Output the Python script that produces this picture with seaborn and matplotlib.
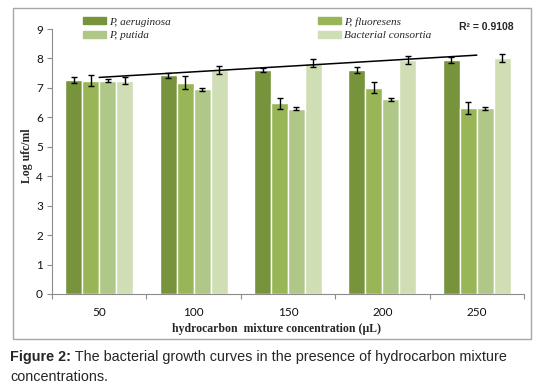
import numpy as np
import pandas as pd
import matplotlib
matplotlib.use("Agg")
import matplotlib.pyplot as plt
from matplotlib.patches import Rectangle
import seaborn as sns

# data
concentrations = ["50", "100", "150", "200", "250"]
strains = ["P, aeruginosa", "P, fluoresens", "P, putida", "Bacterial consortia"]
aeruginosa = [7.27, 7.43, 7.61, 7.61, 7.95]
fluoresens = [7.25, 7.18, 6.48, 7.00, 6.31]
putida = [7.25, 6.96, 6.29, 6.61, 6.31]
consortia = [7.25, 7.60, 7.85, 7.95, 8.02]
err_aeruginosa = [0.10, 0.09, 0.08, 0.10, 0.10]
err_fluoresens = [0.18, 0.21, 0.19, 0.19, 0.20]
err_putida = [0.06, 0.05, 0.05, 0.05, 0.05]
err_consortia = [0.13, 0.13, 0.13, 0.13, 0.13]
r2_label = "R² = 0.9108"

colors = ["#77933C", "#98B656", "#AFC787", "#D0DEB6"]

values = [aeruginosa, fluoresens, putida, consortia]
errors = [err_aeruginosa, err_fluoresens, err_putida, err_consortia]

df = pd.DataFrame({
    "conc": concentrations * len(strains),
    "strain": [s for s in strains for _ in concentrations],
    "value": [v for vals in values for v in vals],
})

sns.set_theme(style="white")
plt.rcParams["font.family"] = ["Lato", "DejaVu Sans"]

fig = plt.figure(figsize=(5.42, 3.9), dpi=100)
ax = fig.add_axes([52 / 542, 1 - 294 / 390, (524 - 52) / 542, (294 - 29) / 390])

sns.barplot(data=df, x="conc", y="value", hue="strain", palette=colors,
            width=0.72, gap=0, errorbar=None, saturation=1, ax=ax, legend=False)

# error bars on each bar
for cont, errs in zip(ax.containers, errors):
    xs = [p.get_x() + p.get_width() / 2 for p in cont.patches]
    ys = [p.get_height() for p in cont.patches]
    ax.errorbar(xs, ys, yerr=errs, fmt="none", ecolor="black", elinewidth=1,
                capsize=2.5, capthick=1, zorder=5)

# linear trendline for consortia
pos = np.arange(len(concentrations))
coef = np.polyfit(pos, consortia, 1)
ax.plot(pos, np.polyval(coef, pos), color="black", lw=1.1, zorder=6)

ax.set_xlim(-0.5, 4.5)
ax.set_ylim(0, 9)
ax.set_yticks(range(10))
ax.set_xticks(np.arange(-0.5, 5, 1), minor=True)
for s in ["top", "right"]:
    ax.spines[s].set_visible(False)
for s in ["left", "bottom"]:
    ax.spines[s].set_color("#8C8C8C")
    ax.spines[s].set_linewidth(0.8)
ax.tick_params(axis="y", left=True, length=3.5, width=0.8, color="#8C8C8C",
               pad=3, labelsize=8.5, labelcolor="#111111")
ax.tick_params(axis="x", which="major", bottom=False, pad=3.5, labelsize=8.5,
               labelcolor="#111111")
ax.tick_params(axis="x", which="minor", bottom=True, length=3.5, width=0.8,
               color="#8C8C8C")
ax.set_xlabel("")
ax.set_ylabel("")

serif = ["Liberation Serif", "DejaVu Serif"]
fig.text(27 / 542, 1 - 156 / 390, "Log ufc/ml", rotation=90, ha="center",
         va="center", family=serif, fontweight="bold", fontsize=8.5)
fig.text(277 / 542, 1 - 329 / 390, "hydrocarbon  mixture concentration (µL)",
         ha="center", va="center", family=serif, fontweight="bold", fontsize=8.5)

# legend
handles = [Rectangle((0, 0), 1, 1, color=c) for c in colors]
order = [0, 2, 1, 3]
leg = ax.legend([handles[i] for i in order], [strains[i] for i in order],
                ncol=2, loc="upper left", bbox_to_anchor=(0.045, 1.083),
                frameon=False, handlelength=2.0, handleheight=0.55,
                handletextpad=0.3, labelspacing=0.36, columnspacing=13.1,
                prop={"family": serif, "style": "italic", "size": 8.1})

fig.text(459 / 542, 1 - 27 / 390, r2_label, ha="left", va="center",
         family=["Liberation Sans", "DejaVu Sans"], fontweight="bold",
         fontsize=7.5)

# chart frame
fig.patches.append(Rectangle((13 / 542, 1 - 339 / 390), (531 - 13) / 542,
                             (339 - 8) / 390, transform=fig.transFigure,
                             fill=False, edgecolor="#A6A6A6", lw=1))

# caption
cap = ["Liberation Sans", "DejaVu Sans"]
t1 = fig.text(10 / 542, 1 - 357 / 390, "Figure 2:", ha="left", va="center",
              family=cap, fontweight="bold", fontsize=10.4)
ax.annotate(" The bacterial growth curves in the presence of hydrocarbon mixture",
            xy=(1, 0.5), xycoords=t1, ha="left", va="center", family=cap,
            fontsize=10.4, annotation_clip=False)
fig.text(10 / 542, 1 - 377 / 390, "concentrations.", ha="left", va="center",
         family=cap, fontsize=10.4)

fig.savefig("out.png", dpi=100)
